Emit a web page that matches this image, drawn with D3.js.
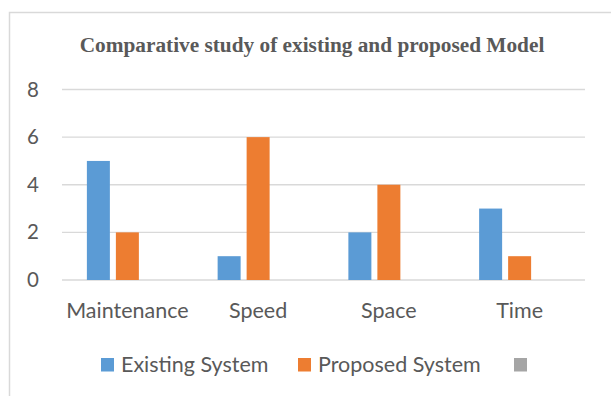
<!DOCTYPE html>
<html>
<head>
<meta charset="utf-8">
<script src="https://cdn.jsdelivr.net/npm/d3@7"></script>
<style>
  body { margin: 0; background: #fff; }
  svg { display: block; }
</style>
</head>
<body>
<div id="chart"></div>
<script>
// chart data
var categories = ["Maintenance", "Speed", "Space", "Time"];
var seriesNames = ["Existing System", "Proposed System", ""];
var existingValues = [5, 1, 2, 3];
var proposedValues = [2, 6, 4, 1];
var emptyValues = [null, null, null, null];
var yTicks = [0, 2, 4, 6, 8];
var colors = ["#5B9BD5", "#ED7D31", "#A5A5A5"];

var width = 611, height = 396;
var plot = {left: 62, right: 585, top: 89.5, bottom: 280};
var labelFont = "Lato, sans-serif", labelSize = "21.5px";

var svg = d3.select("#chart").append("svg")
    .attr("width", width)
    .attr("height", height);

// outer frame (extends past the window on right/bottom)
svg.append("rect")
    .attr("x", 9.5).attr("y", 12.5)
    .attr("width", 700).attr("height", 500)
    .attr("fill", "#fff")
    .attr("stroke", "#D9D9D9")
    .attr("stroke-width", 1.5);

svg.append("text")
    .attr("x", 312).attr("y", 52)
    .attr("text-anchor", "middle")
    .attr("font-family", "Liberation Serif, Times New Roman, serif")
    .attr("font-weight", "bold")
    .attr("font-size", "21.3px")
    .attr("fill", "#595959")
    .text("Comparative study of existing and proposed Model");

var x0 = d3.scaleBand().domain(categories).range([plot.left, plot.right]);
var x1 = d3.scaleBand().domain(d3.range(seriesNames.length))
    .range([0, x0.bandwidth()])
    .paddingInner(0.207).paddingOuter(0.858);
var y = d3.scaleLinear().domain([0, 8]).range([plot.bottom, plot.top]);

// gridlines
svg.append("g")
  .selectAll("line").data(yTicks).enter().append("line")
    .attr("x1", plot.left).attr("x2", plot.right)
    .attr("y1", function(d){ return y(d); })
    .attr("y2", function(d){ return y(d); })
    .attr("stroke", "#D9D9D9")
    .attr("stroke-width", 1.3);

// y axis labels
var yAxis = svg.append("g")
    .attr("transform", "translate(" + (plot.left - 23) + ",0)")
    .call(d3.axisLeft(y).tickValues(yTicks).tickSize(0).tickPadding(0));
yAxis.select(".domain").remove();
yAxis.selectAll("text")
    .attr("font-family", labelFont)
    .attr("font-size", "20.5px")
    .attr("fill", "#595959");

// x axis labels
var xAxis = svg.append("g")
    .attr("transform", "translate(0," + plot.bottom + ")")
    .call(d3.axisBottom(x0).tickSize(0).tickPadding(0));
xAxis.select(".domain").remove();
xAxis.selectAll("text")
    .attr("dy", null)
    .attr("y", 37.5)
    .attr("font-family", labelFont)
    .attr("font-size", labelSize)
    .attr("fill", "#595959");

// bars
var allValues = [existingValues, proposedValues, emptyValues];
var rows = categories.map(function(c, i){
  return {cat: c, vals: allValues.map(function(s, k){ return {k: k, v: s[i]}; })};
});

var groups = svg.append("g").selectAll("g").data(rows).enter().append("g")
    .attr("transform", function(d){ return "translate(" + x0(d.cat) + ",0)"; });

groups.selectAll("rect")
  .data(function(d){ return d.vals.filter(function(e){ return e.v != null; }); })
  .enter().append("rect")
    .attr("x", function(d){ return x1(d.k); })
    .attr("y", function(d){ return y(d.v); })
    .attr("width", x1.bandwidth())
    .attr("height", function(d){ return y(0) - y(d.v); })
    .attr("fill", function(d){ return colors[d.k]; });

// legend
var legendX = [101, 298, 514];
var legend = svg.append("g").selectAll("g").data(seriesNames).enter().append("g")
    .attr("transform", function(d, i){ return "translate(" + legendX[i] + ",358)"; });
legend.append("rect")
    .attr("width", 13).attr("height", 13.5)
    .attr("fill", function(d, i){ return colors[i]; });
legend.append("text")
    .attr("x", 20).attr("y", 13.5)
    .attr("font-family", labelFont)
    .attr("font-size", labelSize)
    .attr("fill", "#595959")
    .text(function(d){ return d; });
</script>
</body>
</html>
